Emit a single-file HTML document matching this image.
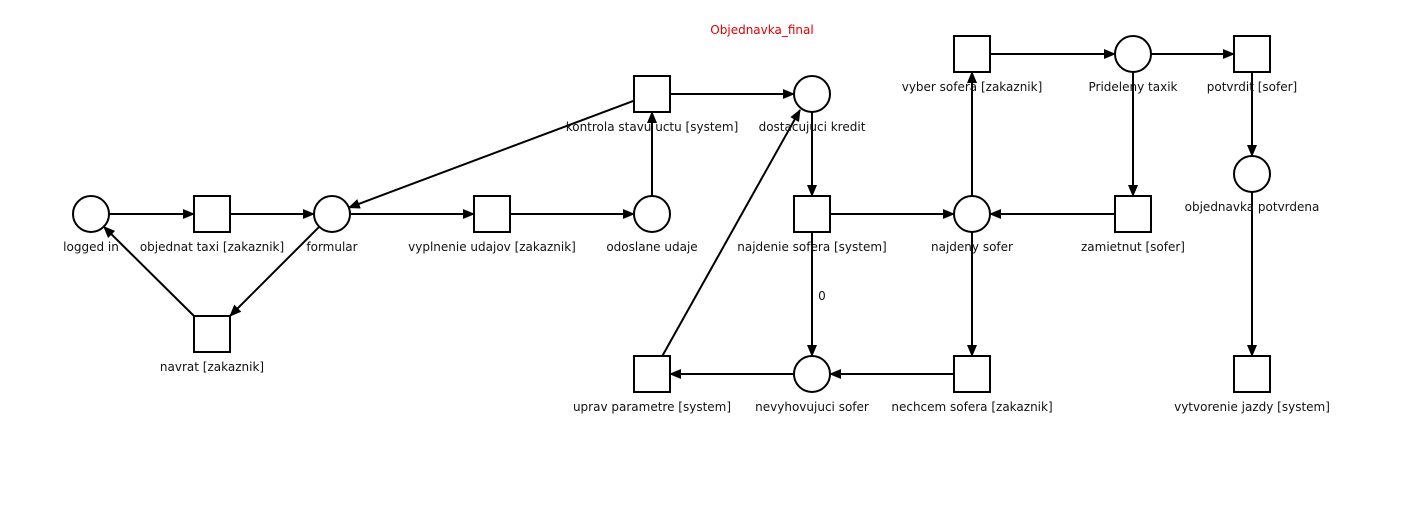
<!DOCTYPE html>
<html><head><meta charset="utf-8"><style>
html,body{margin:0;padding:0;background:#fff;}
svg{display:block;}
text{font-family:"DejaVu Sans","Liberation Sans",sans-serif;font-size:12px;fill:#111;text-anchor:middle;}
</style></head><body>
<svg width="1415" height="530" viewBox="0 0 1415 530" xmlns="http://www.w3.org/2000/svg">
<defs><marker id="a" markerWidth="12" markerHeight="10" refX="11" refY="5" orient="auto" markerUnits="userSpaceOnUse"><path d="M0,0 L12,5 L0,10 z" fill="#000"/></marker></defs>
<text x="762" y="34" style="fill:#e00000">Objednavka_final</text>
<g stroke="#000" stroke-width="2" fill="none" marker-end="url(#a)">
<line x1="109" y1="214" x2="194" y2="214"/>
<line x1="230" y1="214" x2="314" y2="214"/>
<line x1="350" y1="214" x2="474" y2="214"/>
<line x1="510" y1="214" x2="634" y2="214"/>
<line x1="652" y1="196" x2="652" y2="112"/>
<line x1="670" y1="94" x2="794" y2="94"/>
<line x1="634" y1="100.7" x2="348.8" y2="207.7"/>
<line x1="319.3" y1="226.7" x2="230" y2="316"/>
<line x1="194" y1="316" x2="103.8" y2="226.7"/>
<line x1="812" y1="112" x2="812" y2="196"/>
<line x1="830" y1="214" x2="954" y2="214"/>
<line x1="812" y1="232" x2="812" y2="356"/>
<line x1="972" y1="196" x2="972" y2="72"/>
<line x1="990" y1="54" x2="1115" y2="54"/>
<line x1="1151" y1="54" x2="1234" y2="54"/>
<line x1="1133" y1="72" x2="1133" y2="196"/>
<line x1="1115" y1="214" x2="990" y2="214"/>
<line x1="972" y1="232" x2="972" y2="356"/>
<line x1="954" y1="374" x2="830" y2="374"/>
<line x1="794" y1="374" x2="670" y2="374"/>
<line x1="662.3" y1="356" x2="800" y2="110"/>
<line x1="1252" y1="72" x2="1252" y2="156"/>
<line x1="1252" y1="192" x2="1252" y2="356"/>
</g>
<g stroke="#000" stroke-width="2" fill="#fff">
<circle cx="91" cy="214" r="18"/><circle cx="332" cy="214" r="18"/><circle cx="652" cy="214" r="18"/>
<circle cx="812" cy="94" r="18"/><circle cx="972" cy="214" r="18"/><circle cx="1133" cy="54" r="18"/>
<circle cx="1252" cy="174" r="18"/><circle cx="812" cy="374" r="18"/>
<rect x="194" y="196" width="36" height="36"/><rect x="474" y="196" width="36" height="36"/>
<rect x="634" y="76" width="36" height="36"/><rect x="794" y="196" width="36" height="36"/>
<rect x="1115" y="196" width="36" height="36"/><rect x="954" y="36" width="36" height="36"/>
<rect x="1234" y="36" width="36" height="36"/><rect x="194" y="316" width="36" height="36"/>
<rect x="634" y="356" width="36" height="36"/><rect x="954" y="356" width="36" height="36"/>
<rect x="1234" y="356" width="36" height="36"/>
</g>
<text x="91" y="251">logged in</text>
<text x="212" y="251">objednat taxi [zakaznik]</text>
<text x="332" y="251">formular</text>
<text x="492" y="251">vyplnenie udajov [zakaznik]</text>
<text x="652" y="251">odoslane udaje</text>
<text x="652" y="131">kontrola stavu uctu [system]</text>
<text x="812" y="131">dostacujuci kredit</text>
<text x="812" y="251">najdenie sofera [system]</text>
<text x="972" y="251">najdeny sofer</text>
<text x="1133" y="251">zamietnut [sofer]</text>
<text x="972" y="91">vyber sofera [zakaznik]</text>
<text x="1133" y="91">Prideleny taxik</text>
<text x="1252" y="91">potvrdit [sofer]</text>
<text x="1252" y="211">objednavka potvrdena</text>
<text x="212" y="371">navrat [zakaznik]</text>
<text x="652" y="411">uprav parametre [system]</text>
<text x="812" y="411">nevyhovujuci sofer</text>
<text x="972" y="411">nechcem sofera [zakaznik]</text>
<text x="1252" y="411">vytvorenie jazdy [system]</text>
<text x="822" y="300">0</text>
</svg>
</body></html>
